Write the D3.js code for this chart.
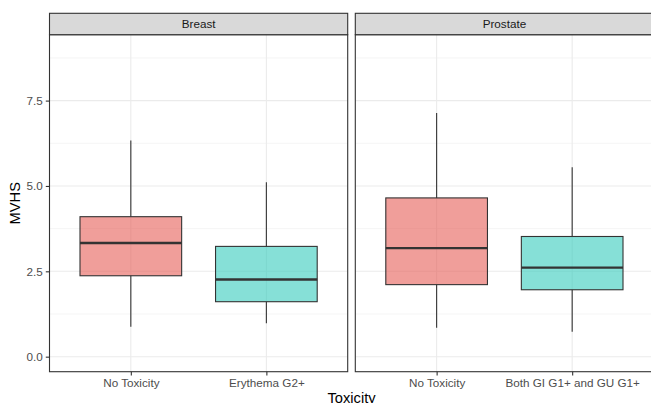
<!DOCTYPE html>
<html>
<head>
<meta charset="utf-8">
<script src="https://cdn.jsdelivr.net/npm/d3@7"></script>
<style>
  body { margin: 0; background: #fff; }
  text { font-family: "Liberation Sans", Arial, sans-serif; }
</style>
</head>
<body>
<div id="chart"></div>
<script>
// facets and their categories
const panels = ["Breast", "Prostate"];
const categories = [
  ["No Toxicity", "Erythema G2+"],
  ["No Toxicity", "Both GI G1+ and GU G1+"]
];
// box stats per panel: [lower whisker, q1, median, q3, upper whisker]
const breastStats = [
  [0.88, 2.37, 3.33, 4.10, 6.33],
  [0.98, 1.61, 2.26, 3.23, 5.11]
];
const prostateStats = [
  [0.85, 2.11, 3.18, 4.65, 7.14],
  [0.73, 1.96, 2.61, 3.52, 5.55]
];
const stats = [breastStats, prostateStats];
const yTicks = [0, 2.5, 5, 7.5];
const yMinor = [1.25, 3.75, 6.25, 8.75];
const fills = ["#e65d57", "#35cbbc"];

const width = 651, height = 403;
const panelW = 298.2, panelGap = 7.6;
const plotLeft = 49.5, stripTop = 13.3, plotTop = 34.7, plotBottom = 371.7;

const svg = d3.select("#chart").append("svg")
  .attr("width", width)
  .attr("height", height);

const y = d3.scaleLinear()
  .domain([-0.44, 9.43])
  .range([plotBottom, plotTop]);

panels.forEach((name, p) => {
  const x0 = plotLeft + p * (panelW + panelGap);
  const x = d3.scalePoint()
    .domain(categories[p])
    .range([x0, x0 + panelW])
    .padding(0.6);
  const boxW = x.step() * 0.75;

  const g = svg.append("g");

  // panel background
  g.append("rect")
    .attr("x", x0).attr("y", plotTop)
    .attr("width", panelW).attr("height", plotBottom - plotTop)
    .attr("fill", "#fff");

  // grid
  g.selectAll(".minor").data(yMinor).enter().append("line")
    .attr("x1", x0).attr("x2", x0 + panelW)
    .attr("y1", d => y(d)).attr("y2", d => y(d))
    .attr("stroke", "#ebebeb").attr("stroke-width", 0.55);
  g.selectAll(".major").data(yTicks).enter().append("line")
    .attr("x1", x0).attr("x2", x0 + panelW)
    .attr("y1", d => y(d)).attr("y2", d => y(d))
    .attr("stroke", "#ebebeb").attr("stroke-width", 1.1);
  g.selectAll(".vgrid").data(categories[p]).enter().append("line")
    .attr("x1", d => x(d)).attr("x2", d => x(d))
    .attr("y1", plotTop).attr("y2", plotBottom)
    .attr("stroke", "#ebebeb").attr("stroke-width", 1.1);

  // boxes
  const rows = categories[p].map((c, i) => ({ cat: c, s: stats[p][i], i }));
  const box = g.selectAll(".box").data(rows).enter().append("g");
  box.append("line")
    .attr("x1", d => x(d.cat)).attr("x2", d => x(d.cat))
    .attr("y1", d => y(d.s[4])).attr("y2", d => y(d.s[3]))
    .attr("stroke", "#333").attr("stroke-width", 1.1);
  box.append("line")
    .attr("x1", d => x(d.cat)).attr("x2", d => x(d.cat))
    .attr("y1", d => y(d.s[1])).attr("y2", d => y(d.s[0]))
    .attr("stroke", "#333").attr("stroke-width", 1.1);
  box.append("rect")
    .attr("x", d => x(d.cat) - boxW / 2)
    .attr("y", d => y(d.s[3]))
    .attr("width", boxW)
    .attr("height", d => y(d.s[1]) - y(d.s[3]))
    .attr("fill", d => fills[d.i]).attr("fill-opacity", 0.6)
    .attr("stroke", "#333").attr("stroke-width", 1.1);
  box.append("line")
    .attr("x1", d => x(d.cat) - boxW / 2).attr("x2", d => x(d.cat) + boxW / 2)
    .attr("y1", d => y(d.s[2])).attr("y2", d => y(d.s[2]))
    .attr("stroke", "#333").attr("stroke-width", 2.3);

  // panel border
  g.append("rect")
    .attr("x", x0).attr("y", plotTop)
    .attr("width", panelW).attr("height", plotBottom - plotTop)
    .attr("fill", "none").attr("stroke", "#333").attr("stroke-width", 1.1);

  // strip
  g.append("rect")
    .attr("x", x0).attr("y", stripTop)
    .attr("width", panelW).attr("height", plotTop - stripTop)
    .attr("fill", "#d9d9d9").attr("stroke", "#333").attr("stroke-width", 1.1);
  g.append("text")
    .attr("x", x0 + panelW / 2).attr("y", (stripTop + plotTop) / 2)
    .attr("dy", "0.35em")
    .attr("text-anchor", "middle")
    .attr("font-size", 11.7).attr("fill", "#1a1a1a")
    .text(name);

  // x axis
  const xAxis = g.append("g")
    .attr("transform", `translate(0,${plotBottom})`)
    .call(d3.axisBottom(x).tickSizeInner(3.7).tickSizeOuter(0).tickPadding(3));
  xAxis.select(".domain").remove();
  xAxis.selectAll("line").attr("stroke", "#333").attr("stroke-width", 1.1);
  xAxis.selectAll("text").attr("font-size", 11.7).attr("fill", "#4d4d4d")
    .style("font-family", "Liberation Sans, Arial, sans-serif");
});

// y axis
const yAxis = svg.append("g")
  .attr("transform", `translate(${plotLeft},0)`)
  .call(d3.axisLeft(y).tickValues(yTicks).tickFormat(d3.format(".1f"))
    .tickSizeInner(3.7).tickSizeOuter(0).tickPadding(3));
yAxis.select(".domain").remove();
yAxis.selectAll("line").attr("stroke", "#333").attr("stroke-width", 1.1);
yAxis.selectAll("text").attr("font-size", 11.7).attr("fill", "#4d4d4d")
  .style("font-family", "Liberation Sans, Arial, sans-serif");

// axis titles
svg.append("text")
  .attr("transform", `translate(20,${(plotTop + plotBottom) / 2}) rotate(-90)`)
  .attr("text-anchor", "middle")
  .attr("font-size", 14.7).attr("fill", "#000")
  .text("MVHS");

svg.append("text")
  .attr("x", plotLeft + (2 * panelW + panelGap) / 2)
  .attr("y", 403)
  .attr("text-anchor", "middle")
  .attr("font-size", 14.7).attr("fill", "#000")
  .text("Toxicity");
</script>
</body>
</html>
